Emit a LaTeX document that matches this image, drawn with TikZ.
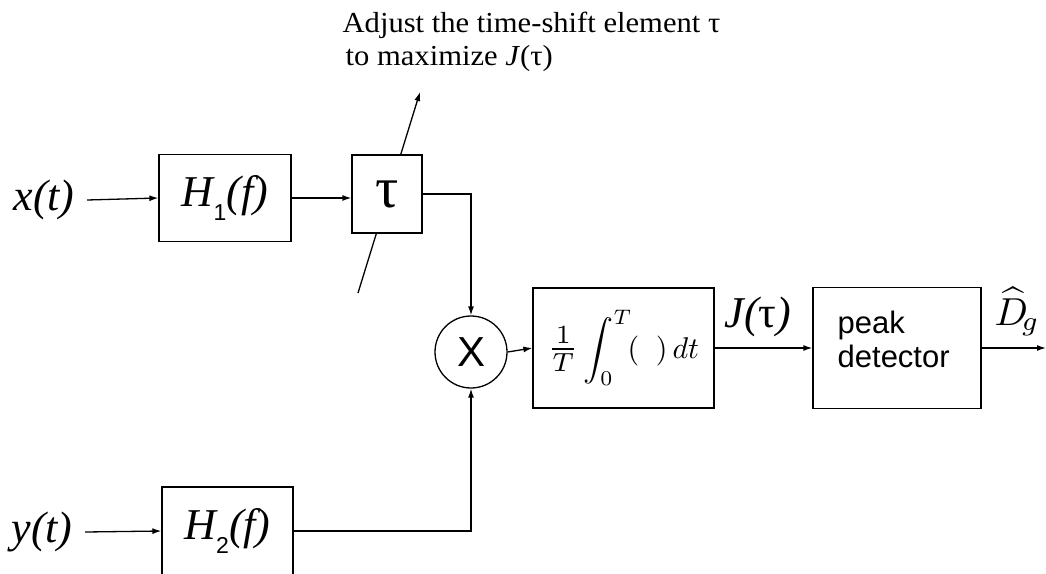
\documentclass[tikz,border=0pt]{standalone}
\usepackage{fontspec}
\setmainfont{Liberation Serif}
\newfontfamily\helv{Liberation Sans}
\newfontfamily\wideserif[FakeStretch=1.055]{Liberation Serif}
\usetikzlibrary{arrows.meta}
\begin{document}
\begin{tikzpicture}[x=1pt,y=-1pt, line width=1.3pt,
  >={Latex[length=9pt,width=6pt]},
  blk/.style={draw, fill=white, inner sep=0pt},
  big/.style={font=\fontsize{44}{48}\selectfont},
  lab/.style={inner sep=0pt, font=\fontsize{44}{48}\selectfont}]
\useasboundingbox (0,0) rectangle (1046,573);
% adjustment arrow through tau box
\coordinate (adjA) at (358,293);
\coordinate (adjB) at (420,92);
\draw[->] (adjA) -- (adjB);
% nodes
\node[lab] (xt) at (44,200) {\itshape x(t)};
\node[lab] (yt) at (42,532) {\itshape y(t)};
\node[blk, big, minimum width=132pt, minimum height=87pt] (h1) at (225,198)
  {\itshape H\raisebox{-0.3em}{\upshape\helv\fontsize{23}{25}\selectfont 1}(f)};
\node[blk, minimum width=70pt, minimum height=78pt, font=\fontsize{58}{60}\selectfont] (tau) at (387,194) {τ};
\node[blk, big, minimum width=131pt, minimum height=88pt] (h2) at (227.5,531)
  {\itshape H\raisebox{-0.3em}{\upshape\helv\fontsize{23}{25}\selectfont 2}(f)};
\node[blk, circle, minimum size=72pt, font=\helv\fontsize{42}{44}\selectfont] (mul) at (471,352) {X};
\node[blk, minimum width=181pt, minimum height=120pt] (integ) at (623.5,348)
  {\scalebox{3}{$\scalebox{1.25}{$\textstyle\frac{1}{T}$}\displaystyle\int_0^T\!(\;\;)\,dt$}};
\node[blk, minimum width=168pt, minimum height=121pt] (peak) at (897,348) {};
\node[anchor=west, inner sep=0pt, align=left, font=\helv\fontsize{31}{34}\selectfont] (peaktext) at (837,339) {peak\\detector};
\node[lab, font=\fontsize{44}{48}\selectfont] (jt) at (758,317) {\itshape J(\upshape τ\itshape)};
\node[inner sep=0pt, anchor=base west] (dg) at (994,325) {\scalebox{3.9}{$\widehat{D}_{\!g}$}};
\node[anchor=north west, inner sep=0pt, align=left, font=\wideserif\fontsize{29}{33}\selectfont] (note) at (342,11)
  {Adjust the time-shift element τ\\\hspace{3pt}to maximize \textit{J}(τ)};
\coordinate (outend) at (1046,348);
% connectors
\draw[->] ([xshift=12pt]xt.east) -- (h1.west);
\draw[->] ([xshift=12pt]yt.east) -- (h2.west);
\draw[->] (h1.east) -- (tau.west |- h1.east);
\draw[->] (tau.east) -| (mul.north);
\draw[->] (h2.east) -| (mul.south);
\draw[->] (mul.east) -- (integ.west);
\draw[->] (integ.east) -- (peak.west);
\draw[->] (peak.east) -- (outend);
\end{tikzpicture}
\end{document}
